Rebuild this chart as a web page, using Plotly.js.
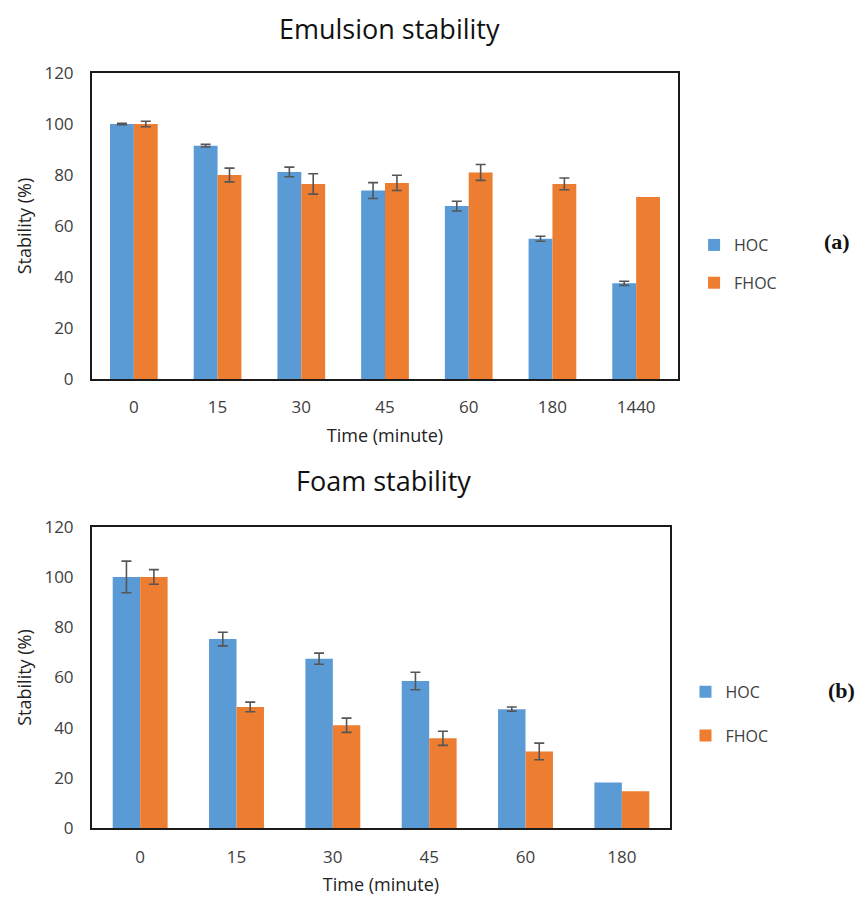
<!DOCTYPE html>
<html>
<head>
<meta charset="utf-8">
<script src="https://cdn.plot.ly/plotly-3.0.1.min.js"></script>
<style>html,body{margin:0;padding:0;background:#fff;}#chart{width:859px;height:898px;}</style>
</head>
<body>
<div id="chart"></div>
<script>
// (a) Emulsion stability
const emulsionTimes = ['0', '15', '30', '45', '60', '180', '1440'];
const emulsionHOC = [100, 91.5, 81.2, 73.9, 67.8, 55.0, 37.5];
const emulsionHOCErr = [0.3, 0.5, 1.9, 3.1, 1.9, 1.0, 0.8];
const emulsionFHOC = [100, 80.0, 76.5, 76.9, 81.0, 76.5, 71.4];
const emulsionFHOCErr = [1.1, 2.7, 4.0, 3.0, 3.1, 2.3, NaN];   // no error bar drawn

// (b) Foam stability
const foamTimes = ['0', '15', '30', '45', '60', '180'];
const foamHOC = [100, 75.3, 67.5, 58.6, 47.4, 18.2];
const foamHOCErr = [6.3, 2.7, 2.2, 3.5, 0.85, NaN];
const foamFHOC = [100, 48.3, 41.0, 35.8, 30.6, 14.7];
const foamFHOCErr = [2.9, 1.9, 2.85, 2.8, 3.3, NaN];

const BLUE = '#5B9BD5';
const ORANGE = '#ED7D31';
const FONT = '"Open Sans", "Noto Sans", sans-serif';
const TXT = '#404040';

function err(arr) {
  return {type: 'data', array: arr, visible: true, color: '#555555', thickness: 1.6, width: 5};
}

const traces = [
  {type: 'bar', name: 'HOC', x: emulsionTimes, y: emulsionHOC, error_y: err(emulsionHOCErr),
   marker: {color: BLUE}, xaxis: 'x', yaxis: 'y', legend: 'legend', legendgroup: 'a1'},
  {type: 'bar', name: 'FHOC', x: emulsionTimes, y: emulsionFHOC, error_y: err(emulsionFHOCErr),
   marker: {color: ORANGE}, xaxis: 'x', yaxis: 'y', legend: 'legend', legendgroup: 'a2'},
  {type: 'bar', name: 'HOC', x: foamTimes, y: foamHOC, error_y: err(foamHOCErr),
   marker: {color: BLUE}, xaxis: 'x2', yaxis: 'y2', legend: 'legend2', legendgroup: 'b1'},
  {type: 'bar', name: 'FHOC', x: foamTimes, y: foamFHOC, error_y: err(foamFHOCErr),
   marker: {color: ORANGE}, xaxis: 'x2', yaxis: 'y2', legend: 'legend2', legendgroup: 'b2'}
];

const axisCommon = {
  showline: true, mirror: true, linecolor: '#1a1a1a', linewidth: 2,
  showgrid: false, zeroline: false, ticks: '', automargin: false,
  tickfont: {family: FONT, size: 17, color: TXT}
};

const yCommon = Object.assign({}, axisCommon, {range: [0, 120], dtick: 20, tick0: 0, ticklabelstandoff: 13});
const xCommon = Object.assign({}, axisCommon, {type: 'category', ticklabelstandoff: 12});

const xTitle = {text: 'Time (minute)', font: {family: FONT, size: 18, color: '#222'}, standoff: 12};
const yTitle = {text: 'Stability (%)', font: {family: FONT, size: 18, color: '#222'}, standoff: 8};

const layout = {
  width: 859, height: 898,
  margin: {l: 0, r: 0, t: 0, b: 0},
  paper_bgcolor: '#ffffff', plot_bgcolor: '#ffffff',
  barmode: 'group', bargap: 0.43, bargroupgap: 0,
  font: {family: FONT, color: TXT},
  xaxis: Object.assign({}, xCommon, {domain: [0.1071, 0.7893], anchor: 'y', title: xTitle}),
  yaxis: Object.assign({}, yCommon, {domain: [0.578, 0.9187], anchor: 'x', title: yTitle}),
  xaxis2: Object.assign({}, xCommon, {domain: [0.1071, 0.7800], anchor: 'y2', title: xTitle}),
  yaxis2: Object.assign({}, yCommon, {domain: [0.0776, 0.4135], anchor: 'x2', title: yTitle}),
  legend: {x: 0.808, y: 0.706, xanchor: 'left', yanchor: 'middle', traceorder: 'grouped',
    tracegroupgap: 14, font: {family: FONT, size: 16, color: TXT}, itemwidth: 30,
    bgcolor: 'rgba(0,0,0,0)'},
  legend2: {x: 0.798, y: 0.205, xanchor: 'left', yanchor: 'middle', traceorder: 'grouped',
    tracegroupgap: 20, font: {family: FONT, size: 16, color: TXT}, itemwidth: 30,
    bgcolor: 'rgba(0,0,0,0)'},
  annotations: [
    {text: 'Emulsion stability', xref: 'paper', yref: 'paper', x: 389/859, y: 1 - 28/898,
     xanchor: 'center', yanchor: 'middle', showarrow: false, font: {family: FONT, size: 27, color: '#111'}},
    {text: 'Foam stability', xref: 'paper', yref: 'paper', x: 383/859, y: 1 - 480/898,
     xanchor: 'center', yanchor: 'middle', showarrow: false, font: {family: FONT, size: 27, color: '#111'}},
    {text: '<b>(a)</b>', xref: 'paper', yref: 'paper', x: 852/859, y: 1 - 241/898,
     xanchor: 'right', yanchor: 'middle', showarrow: false, font: {family: 'Liberation Serif, DejaVu Serif, serif', size: 22, color: '#111'}},
    {text: '<b>(b)</b>', xref: 'paper', yref: 'paper', x: 857/859, y: 1 - 690/898,
     xanchor: 'right', yanchor: 'middle', showarrow: false, font: {family: 'Liberation Serif, DejaVu Serif, serif', size: 22, color: '#111'}}
  ]
};

Plotly.newPlot('chart', traces, layout, {displayModeBar: false, staticPlot: true});
</script>
</body>
</html>
